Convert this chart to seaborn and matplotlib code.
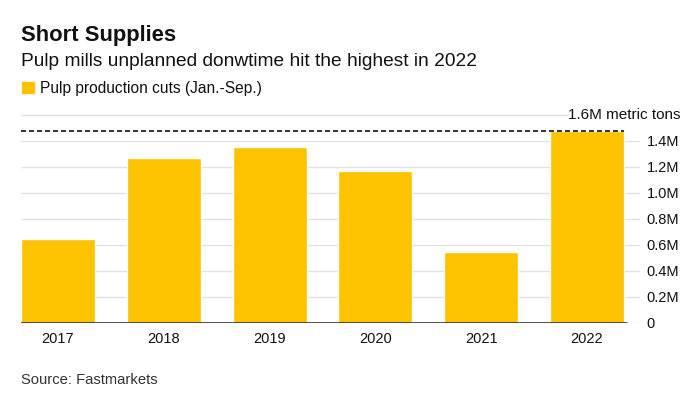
import matplotlib
matplotlib.use("Agg")
import matplotlib.pyplot as plt
from matplotlib.patches import Rectangle
import seaborn as sns
import pandas as pd

years = ["2017", "2018", "2019", "2020", "2021", "2022"]
cuts = [0.644, 1.269, 1.352, 1.169, 0.544, 1.478]  # million metric tons
ytick_vals = [0, 0.2, 0.4, 0.6, 0.8, 1.0, 1.2, 1.4]
ytick_labels = ["0", "0.2M", "0.4M", "0.6M", "0.8M", "1.0M", "1.2M", "1.4M"]

df = pd.DataFrame({"year": years, "cuts": cuts})

sns.set_style("white")
plt.rcParams["font.family"] = ["Liberation Sans", "DejaVu Sans"]

yellow = "#FDC300"
grid_c = "#e2e2e2"

fig = plt.figure(figsize=(7, 3.97), dpi=100)
ax = fig.add_axes([0.030, 0.187, 0.884, 0.524])

sns.barplot(data=df, x="year", y="cuts", color=yellow, saturation=1,
            width=0.7, ax=ax, zorder=2)

ax.set_xlim(-0.35, 5.5)
ax.set_ylim(0, 1.6)
ax.set_yticks(ytick_vals)
ax.set_yticklabels(ytick_labels)
ax.yaxis.tick_right()
ax.tick_params(axis="y", length=0, pad=5, labelsize=10.5, colors="#111111")
ax.tick_params(axis="x", length=0, pad=7, labelsize=10.5, colors="#111111")
ax.set_xlabel("")
ax.set_ylabel("")
for s in ax.spines.values():
    s.set_visible(False)

for v in ytick_vals[1:]:
    ax.axhline(v, color=grid_c, lw=1, zorder=0)
ax.axhline(0, color=grid_c, lw=1, zorder=0)
ax.axhline(0, xmin=0, xmax=0.979, color="#222222", lw=1.1, zorder=3)
ax.axhline(1.6, xmin=0, xmax=0.882, color=grid_c, lw=1, zorder=0, clip_on=False)
ax.text(0.884, 1.6, "1.6M metric tons", transform=ax.get_yaxis_transform(),
        ha="left", va="center", fontsize=11, color="#111111")

# dashed marker at this year's level
ax.axhline(max(cuts), xmin=0, xmax=0.975, color="#111111", lw=1.2,
           ls=(0, (3, 1.8)), zorder=3)

fig.text(0.030, 0.897, "Short Supplies", fontsize=15.8, fontweight="bold",
         color="#111111")
fig.text(0.030, 0.834, "Pulp mills unplanned donwtime hit the highest in 2022",
         fontsize=13.8, color="#111111")
fig.patches.append(Rectangle((0.032, 0.766), 0.016, 0.027, transform=fig.transFigure,
                             color=yellow, figure=fig))
fig.text(0.057, 0.767, "Pulp production cuts (Jan.-Sep.)", fontsize=11.2,
         color="#111111")
fig.text(0.030, 0.033, "Source: Fastmarkets", fontsize=10.6, color="#333333")

fig.savefig("out.png", dpi=100)
